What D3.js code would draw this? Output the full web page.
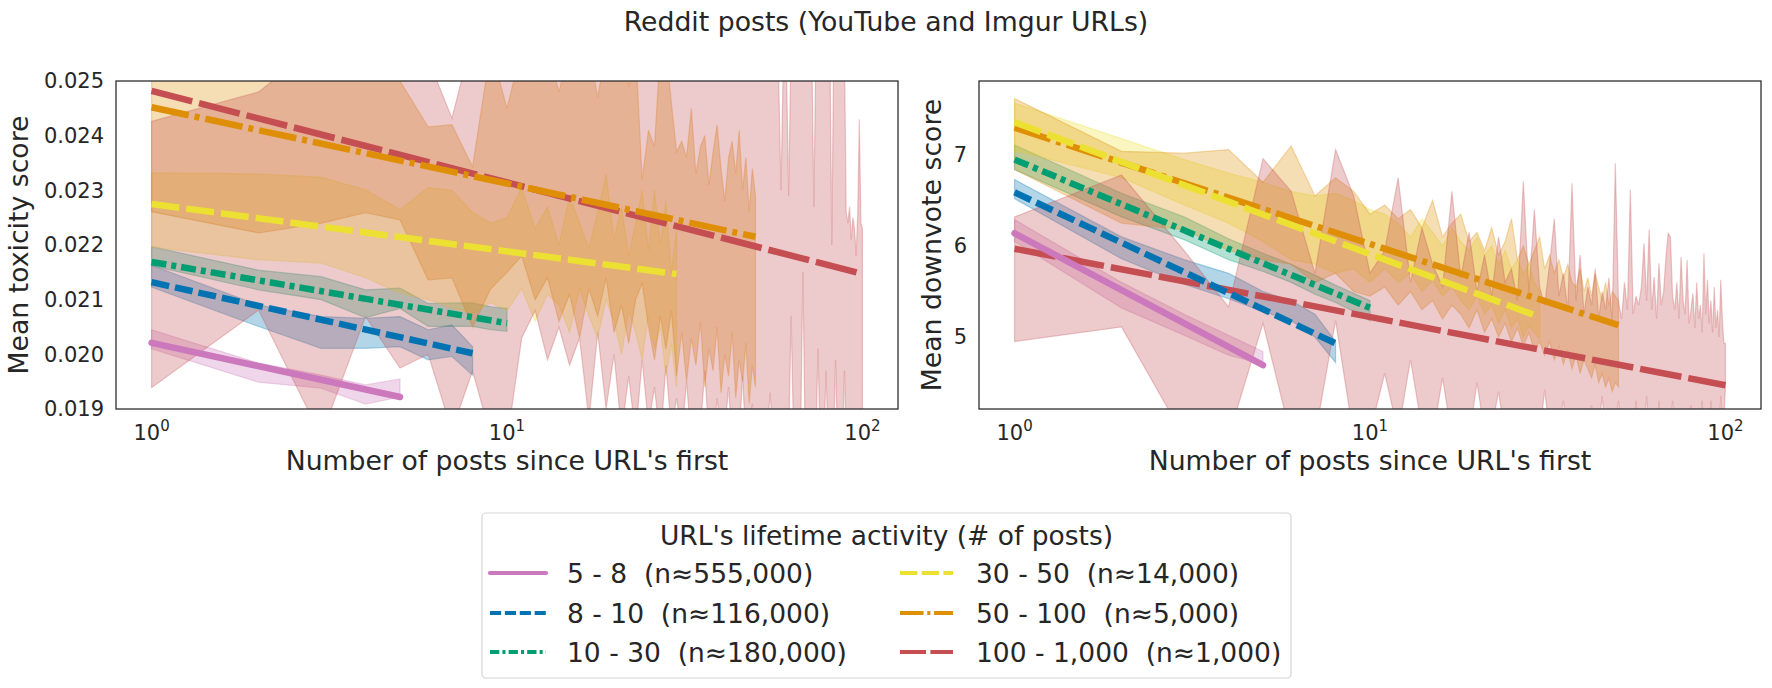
<!DOCTYPE html>
<html>
<head>
<meta charset="utf-8">
<script src="https://cdn.jsdelivr.net/npm/d3@7"></script>
<style>
  body { margin: 0; background: #fff; }
  text { font-family: "DejaVu Sans", sans-serif; fill: #262626; white-space: pre; }
</style>
</head>
<body>
<div class="canvas"></div>
<script>
// groups of URLs by lifetime activity
const groups = ["5 - 8  (n≈555,000)", "8 - 10  (n≈116,000)", "10 - 30  (n≈180,000)",
                "30 - 50  (n≈14,000)", "50 - 100  (n≈5,000)", "100 - 1,000  (n≈1,000)"];
const maxPosts = [5, 8, 10, 30, 50, 100];

// fitted lines (value at x=1 and at x=maxPosts)
const toxFitStart = [0.02021, 0.02132, 0.02169, 0.02275, 0.02452, 0.02482];
const toxFitEnd = [0.01922, 0.02002, 0.02057, 0.02147, 0.02215, 0.02147];
const downFitStart = [6.14, 6.59, 6.95, 7.36, 7.30, 5.97];
const downFitEnd = [4.69, 4.93, 5.32, 5.22, 5.13, 4.47];

// confidence bands, one value per x = 1, 2, 3 ...
const toxLo = [
  [0.02010, 0.01949, 0.01938, 0.01909, 0.01922],
  [0.02123, 0.02051, 0.02011, 0.02011, 0.02014, 0.01990, 0.01996, 0.01962],
  [0.02162, 0.02118, 0.02100, 0.02067, 0.02084, 0.02051, 0.02051, 0.02051, 0.02045, 0.02042],
  [0.02196, 0.02173, 0.02167, 0.02140, 0.02112, 0.02100, 0.02085, 0.02075, 0.02095, 0.02080,
   0.02120, 0.02060, 0.02110, 0.02090, 0.02040, 0.02120, 0.02070, 0.02030, 0.02100, 0.02060,
   0.02000, 0.02080, 0.02040, 0.01990, 0.02070, 0.02010, 0.02050, 0.01960, 0.02020, 0.01940],
  [0.02261, 0.02222, 0.02240, 0.02259, 0.02246, 0.02136, 0.0214, 0.0205, 0.0212, 0.0215,
   0.0218, 0.0210, 0.0214, 0.0206, 0.0211, 0.0203, 0.0212, 0.0207, 0.0214, 0.0204,
   0.0209, 0.0202, 0.0210, 0.0213, 0.0205, 0.0199, 0.0207, 0.0201, 0.0208, 0.0196,
   0.0204, 0.0195, 0.0203, 0.0198, 0.0206, 0.0194, 0.0201, 0.0197, 0.0205, 0.0193,
   0.0200, 0.0196, 0.0204, 0.0192, 0.0199, 0.0195, 0.0202, 0.0191, 0.0198, 0.0194],
  [0.01939, 0.02081, 0.0185, 0.02069, 0.01975, 0.0200, 0.0186, 0.0197, 0.0185, 0.0184,
   0.0203, 0.0208, 0.0199, 0.0205, 0.0198, 0.0203, 0.0188, 0.0204, 0.0190, 0.0200,
   0.0186, 0.0196, 0.0185, 0.0199, 0.0187, 0.0194, 0.0184, 0.0198, 0.0186, 0.0192,
   0.0185, 0.0195, 0.0184, 0.0190, 0.0186, 0.0197, 0.0185, 0.0184, 0.0192, 0.0185,
   0.0186, 0.0194, 0.0184, 0.0188, 0.0185, 0.0196, 0.0184, 0.0186, 0.0191, 0.0185,
   0.0184, 0.0190, 0.0185, 0.0186, 0.0193, 0.0184, 0.0185, 0.0189, 0.0184, 0.0186,
   0.0185, 0.0184, 0.0207, 0.0185, 0.0186, 0.0184, 0.0185, 0.0215, 0.0184, 0.0186,
   0.0185, 0.0184, 0.0186, 0.0185, 0.0201, 0.0184, 0.0186, 0.0185, 0.0197, 0.0184,
   0.0185, 0.0186, 0.0184, 0.0199, 0.0185, 0.0184, 0.0186, 0.0185, 0.0197, 0.0184,
   0.0186, 0.0185, 0.0184, 0.0186, 0.0185, 0.0184, 0.0186, 0.0185, 0.0184, 0.0186]
];
const toxHi = [
  [0.02045, 0.01984, 0.01962, 0.01944, 0.01955],
  [0.02163, 0.02090, 0.02069, 0.02066, 0.02069, 0.02045, 0.02054, 0.02014],
  [0.02197, 0.02154, 0.02142, 0.02118, 0.02121, 0.02093, 0.02094, 0.02094, 0.02087, 0.02084],
  [0.02332, 0.02330, 0.02324, 0.02301, 0.02265, 0.02305, 0.02300, 0.02260, 0.02240, 0.02250,
   0.02305, 0.02230, 0.02270, 0.02200, 0.02290, 0.02240, 0.02195, 0.02260, 0.02330, 0.02210,
   0.02270, 0.02180, 0.02240, 0.02300, 0.02190, 0.02300, 0.02200, 0.02280, 0.02150, 0.02230],
  [0.0256, 0.0256, 0.0255, 0.0256, 0.0250, 0.02416, 0.0242, 0.02343, 0.0256, 0.0245,
   0.0256, 0.0250, 0.0256, 0.0248, 0.0256, 0.0251, 0.0256, 0.0247, 0.0256, 0.0252,
   0.0256, 0.0249, 0.0256, 0.0232, 0.0241, 0.0238, 0.0256, 0.0256, 0.0246, 0.0237,
   0.0239, 0.0236, 0.0245, 0.0233, 0.0238, 0.0240, 0.0231, 0.0237, 0.0242, 0.0234,
   0.0228, 0.0236, 0.0239, 0.0233, 0.0241, 0.0230, 0.0236, 0.0226, 0.0234, 0.0229],
  [0.02426, 0.02480, 0.0257, 0.0257, 0.0256, 0.0254, 0.02432, 0.0258, 0.0257, 0.0256,
   0.0258, 0.0255, 0.0257, 0.0253, 0.0258, 0.0256, 0.0259, 0.0254, 0.0257, 0.0258,
   0.0255, 0.0258, 0.0253, 0.0257, 0.0259, 0.0254, 0.0256, 0.0258, 0.0252, 0.0257,
   0.0255, 0.0259, 0.0256, 0.0253, 0.0258, 0.0255, 0.0257, 0.0254, 0.0258, 0.0256,
   0.0253, 0.0257, 0.0259, 0.0255, 0.0258, 0.0254, 0.0256, 0.0258, 0.0253, 0.0257,
   0.0255, 0.0258, 0.0256, 0.0254, 0.0257, 0.0259, 0.0255, 0.0253, 0.0230, 0.0257,
   0.0256, 0.0229, 0.0258, 0.0255, 0.0257, 0.0254, 0.0259, 0.0256, 0.0253, 0.0258,
   0.0255, 0.0257, 0.0227, 0.0258, 0.0256, 0.0259, 0.0254, 0.0257, 0.0255, 0.0258,
   0.0256, 0.0220, 0.0257, 0.0255, 0.0258, 0.0259, 0.0254, 0.0257, 0.0255, 0.0226,
   0.0224, 0.0227, 0.0221, 0.0225, 0.0223, 0.0218, 0.0226, 0.0243, 0.0224, 0.0223]
];
const downLo = [
  [6.05, 5.32, 5.02, 4.80, 4.70],
  [6.52, 5.86, 5.58, 5.42, 5.28, 5.18, 5.00, 4.72],
  [6.84, 6.32, 6.07, 5.85, 5.72, 5.60, 5.47, 5.38, 5.28, 5.18],
  [7.05, 6.75, 6.45, 6.25, 6.05, 5.85, 5.80, 5.70, 5.75, 5.60,
   5.75, 5.60, 5.70, 5.50, 5.62, 5.45, 5.55, 5.40, 5.30, 5.45,
   5.25, 5.35, 5.15, 5.30, 5.10, 5.20, 5.00, 5.12, 5.05, 4.98],
  [6.84, 6.25, 6.18, 5.95, 5.85, 5.80, 5.60, 5.70, 5.50, 5.45,
   5.55, 5.35, 5.50, 5.30, 5.40, 5.20, 5.35, 5.25, 5.10, 5.30,
   5.05, 5.20, 5.00, 5.15, 4.95, 5.10, 4.90, 5.05, 4.85, 4.95,
   4.80, 4.95, 4.75, 4.90, 4.70, 4.85, 4.65, 4.80, 4.60, 4.75,
   4.65, 4.55, 4.70, 4.50, 4.60, 4.45, 4.55, 4.40, 4.50, 4.45],
  [4.95, 5.11, 3.90, 3.90, 5.15, 3.90, 3.90, 5.18, 3.90, 3.95,
   4.60, 3.95, 4.75, 4.00, 3.90, 4.55, 3.90, 4.05, 3.90, 4.50,
   3.95, 4.00, 4.40, 3.90, 3.95, 4.10, 3.90, 3.95, 4.20, 3.90,
   4.42, 3.95, 3.90, 4.00, 4.30, 3.90, 3.95, 4.05, 3.90, 3.95,
   3.95, 4.25, 3.90, 4.00, 4.35, 3.90, 3.95, 4.10, 3.90, 4.30,
   3.95, 3.90, 4.05, 3.90, 3.95, 4.30, 3.90, 4.00, 3.90, 4.35,
   3.95, 3.90, 4.05, 3.90, 4.30, 3.95, 3.90, 4.00, 3.90, 3.95,
   4.30, 3.90, 3.95, 4.05, 3.90, 3.95, 3.90, 4.00, 3.90, 4.25,
   3.95, 3.90, 4.00, 3.90, 3.95, 4.30, 3.90, 3.95, 4.00, 3.90,
   4.30, 3.95, 3.90, 4.05, 3.90, 3.95, 4.35, 3.90, 4.10, 4.45]
];
const downHi = [
  [6.29, 5.60, 5.25, 5.02, 4.84],
  [6.73, 6.10, 5.85, 5.70, 5.50, 5.40, 5.25, 4.95],
  [7.11, 6.58, 6.32, 6.08, 5.92, 5.80, 5.68, 5.57, 5.48, 5.40],
  [7.57, 7.18, 6.95, 6.80, 6.70, 6.60, 6.55, 6.58, 6.50, 6.40,
   6.35, 6.25, 6.10, 6.30, 6.15, 6.00, 6.20, 6.05, 5.95, 6.10,
   5.90, 6.00, 5.80, 5.95, 5.75, 5.85, 5.70, 5.80, 5.60, 5.50],
  [7.62, 7.04, 7.02, 7.06, 6.70, 7.10, 6.55, 6.75, 6.60, 6.35,
   6.45, 6.30, 6.40, 6.20, 6.50, 6.10, 6.25, 6.35, 6.05, 6.15,
   5.95, 6.20, 5.90, 6.05, 6.30, 5.85, 6.00, 5.80, 5.95, 6.10,
   5.75, 5.90, 5.70, 5.85, 5.65, 5.80, 5.60, 5.55, 5.75, 5.50,
   5.65, 5.45, 5.70, 5.55, 5.40, 5.60, 5.35, 5.50, 5.45, 5.40],
  [6.32, 6.78, 5.95, 5.33, 6.96, 6.60, 5.70, 7.06, 6.55, 5.70,
   5.95, 6.75, 5.60, 6.20, 5.80, 5.55, 6.60, 5.65, 6.15, 5.50,
   5.90, 5.45, 6.10, 5.60, 5.75, 5.40, 6.71, 5.50, 6.40, 5.55,
   5.35, 5.80, 6.30, 5.45, 5.70, 5.30, 6.69, 5.40, 5.90, 5.25,
   5.55, 5.35, 5.75, 5.20, 5.50, 5.30, 5.65, 5.15, 6.91, 5.40,
   5.20, 5.60, 5.30, 6.62, 5.25, 5.45, 5.35, 5.55, 6.03, 5.40,
   6.18, 5.30, 5.66, 5.20, 5.81, 5.35, 5.50, 5.88, 6.14, 6.10,
   5.45, 5.30, 5.60, 5.20, 5.88, 5.40, 5.25, 5.85, 5.15, 5.30,
   5.48, 5.10, 5.60, 5.20, 5.35, 5.05, 5.92, 5.25, 5.63, 5.15,
   5.40, 5.05, 5.55, 5.10, 5.30, 5.00, 5.63, 5.20, 4.93, 4.93]
];

const xTicks = [1, 10, 100];
const xTickPowers = ["0", "1", "2"];
const toxTicks = [0.019, 0.020, 0.021, 0.022, 0.023, 0.024, 0.025];
const downTicks = [5, 6, 7];

// styles
const colors = ["#cc78bc", "#0173b2", "#029e73", "#ece133", "#de8f05", "#c44e52"];
const dashes = [null, [18, 6], [15, 5, 5, 5], [28, 7], [38, 6, 5, 6], [42, 7]];

const plotTop = 81, plotBottom = 409;

const svg = d3.select(".canvas").append("svg")
    .attr("width", 1772)
    .attr("height", 688);

svg.append("text")
    .attr("x", 886)
    .attr("y", 31)
    .attr("text-anchor", "middle")
    .style("font-size", "26.7px")
    .text("Reddit posts (YouTube and Imgur URLs)");

const panels = [
  { id: "tox", left: 116, right: 898, lo: toxLo, hi: toxHi, fitStart: toxFitStart, fitEnd: toxFitEnd,
    yDomain: [0.019, 0.025], yTicks: toxTicks, fmt: d3.format(".3f"),
    label: "Mean toxicity score", labelX: 28 },
  { id: "down", left: 979, right: 1761, lo: downLo, hi: downHi, fitStart: downFitStart, fitEnd: downFitEnd,
    yDomain: [4.209, 7.813], yTicks: downTicks, fmt: d3.format("d"),
    label: "Mean downvote score", labelX: 941 }
];

panels.forEach(p => {
  const x = d3.scaleLog().domain([Math.pow(10, -0.1), Math.pow(10, 2.1)]).range([p.left, p.right]);
  const y = d3.scaleLinear().domain(p.yDomain).range([plotBottom, plotTop]);

  svg.append("clipPath").attr("id", "clip-" + p.id)
    .append("rect")
    .attr("x", p.left).attr("y", plotTop)
    .attr("width", p.right - p.left).attr("height", plotBottom - plotTop);

  const plot = svg.append("g").attr("clip-path", "url(#clip-" + p.id + ")");

  const area = d3.area()
      .x(d => x(d.n))
      .y0(d => y(d.lo))
      .y1(d => y(d.hi));

  // bands
  groups.forEach((g, i) => {
    const rows = p.lo[i].map((v, j) => ({ n: j + 1, lo: v, hi: p.hi[i][j] }));
    plot.append("path")
        .attr("d", area(rows))
        .attr("fill", colors[i])
        .attr("fill-opacity", 0.3)
        .attr("stroke", colors[i])
        .attr("stroke-opacity", 0.3)
        .attr("stroke-width", 1.2);
  });

  // fitted lines, last group underneath
  const line = d3.line().x(d => x(d.n)).y(d => y(d.v));
  d3.range(groups.length - 1, -1, -1).forEach(i => {
    const pts = [{ n: 1, v: p.fitStart[i] }, { n: maxPosts[i], v: p.fitEnd[i] }];
    plot.append("path")
        .attr("d", line(pts))
        .attr("fill", "none")
        .attr("stroke", colors[i])
        .attr("stroke-width", 6.5)
        .attr("stroke-linecap", dashes[i] ? "butt" : "round")
        .attr("stroke-dasharray", dashes[i] ? dashes[i].join(",") : null);
  });

  // y axis
  const yAxis = svg.append("g")
      .attr("transform", `translate(${p.left},0)`)
      .call(d3.axisLeft(y).tickValues(p.yTicks).tickSize(0).tickPadding(12).tickFormat(p.fmt));
  yAxis.select(".domain").remove();
  yAxis.selectAll("text")
      .style("font-family", "DejaVu Sans")
      .style("font-size", "21px")
      .attr("fill", "#262626");

  // x tick labels 10^k
  xTicks.forEach((t, k) => {
    const tx = svg.append("text")
        .attr("x", x(t))
        .attr("y", 440)
        .attr("text-anchor", "middle")
        .style("font-size", "21px");
    tx.append("tspan").text("10");
    tx.append("tspan").attr("dy", -9).style("font-size", "15px").text(xTickPowers[k]);
  });

  svg.append("text")
      .attr("x", (p.left + p.right) / 2)
      .attr("y", 470)
      .attr("text-anchor", "middle")
      .style("font-size", "26.7px")
      .text("Number of posts since URL's first");

  svg.append("text")
      .attr("transform", `translate(${p.labelX},${(plotTop + plotBottom) / 2}) rotate(-90)`)
      .attr("text-anchor", "middle")
      .style("font-size", "26.7px")
      .text(p.label);

  svg.append("rect")
      .attr("x", p.left).attr("y", plotTop)
      .attr("width", p.right - p.left).attr("height", plotBottom - plotTop)
      .attr("fill", "none")
      .attr("stroke", "#262626")
      .attr("stroke-width", 1.25);
});

// legend
const legend = svg.append("g");
legend.append("rect")
    .attr("x", 482).attr("y", 513)
    .attr("width", 809).attr("height", 165)
    .attr("rx", 4)
    .attr("fill", "#fff")
    .attr("stroke", "#d4d4d4")
    .attr("stroke-width", 1.2);

legend.append("text")
    .attr("x", 886.5).attr("y", 544.5)
    .attr("text-anchor", "middle")
    .style("font-size", "26.5px")
    .text("URL's lifetime activity (# of posts)");

const rowY = [573, 613, 652];
const colX = [[490, 546, 567], [900, 953, 976]];
groups.forEach((g, i) => {
  const c = colX[Math.floor(i / 3)], ry = rowY[i % 3];
  legend.append("line")
      .attr("x1", c[0]).attr("x2", c[1])
      .attr("y1", ry).attr("y2", ry)
      .attr("stroke", colors[i])
      .attr("stroke-width", 4.2)
      .attr("stroke-linecap", dashes[i] ? "butt" : "round")
      .attr("stroke-dasharray", dashes[i] ? dashes[i].map(d => d * 0.62).join(",") : null);
  legend.append("text")
      .attr("x", c[2]).attr("y", ry + 9.5)
      .attr("xml:space", "preserve")
      .style("font-size", "26.5px")
      .text(g);
});
</script>
</body>
</html>
